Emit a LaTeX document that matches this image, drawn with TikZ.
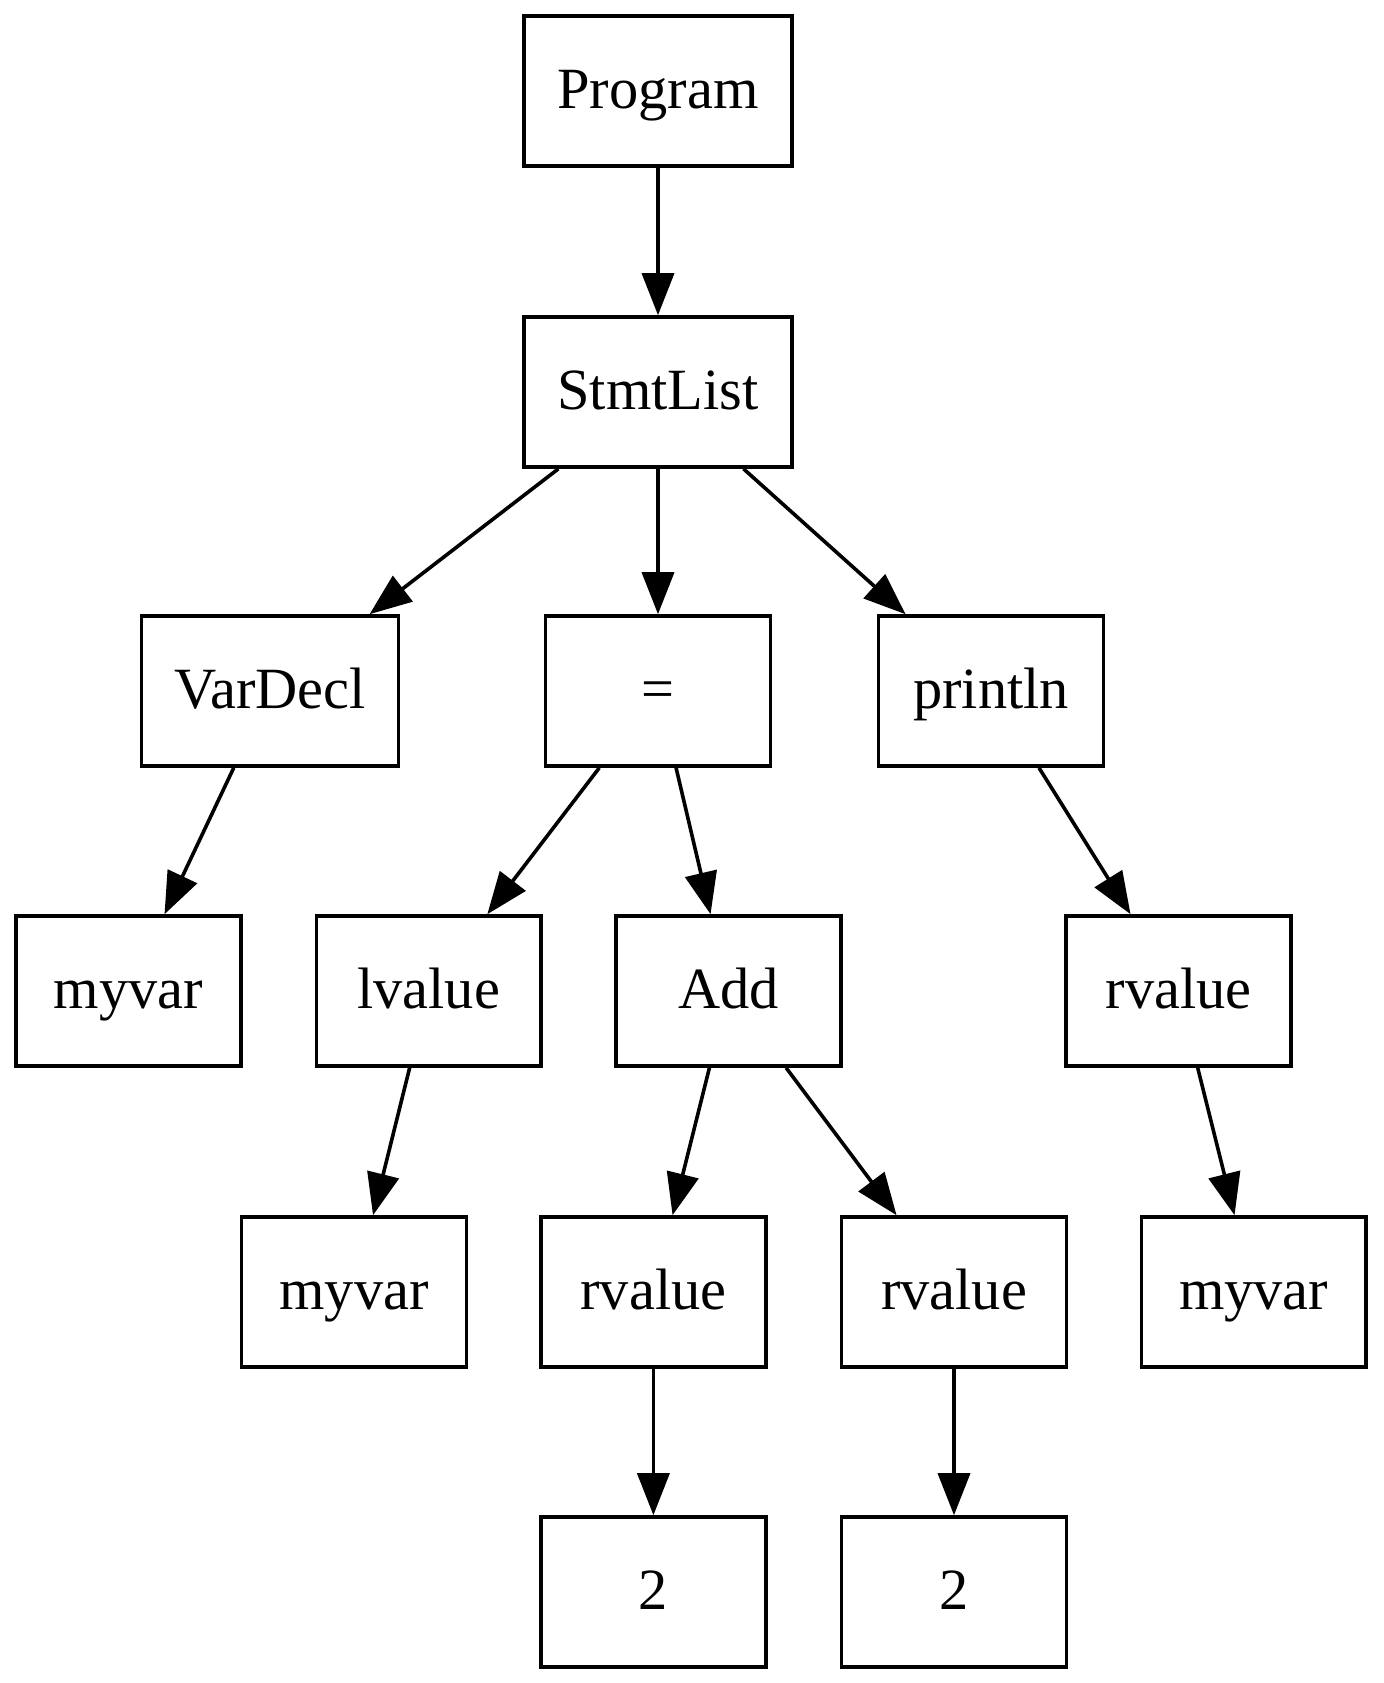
\documentclass[tikz,border=0pt]{standalone}
\usepackage{fontspec}
\setmainfont{Liberation Serif}
\usetikzlibrary{arrows.meta}
\begin{document}
\begin{tikzpicture}[x=0.25pt,y=-0.25pt,
  box/.style={draw, line width=0.9pt, inner sep=0pt, minimum width=56.2pt, minimum height=37.5pt,
    font=\fontsize{14.6pt}{17pt}\selectfont, text height=10.2pt, text depth=1.5pt},
  wide/.style={minimum width=67.1pt},
  vwide/.style={minimum width=64.3pt},
  edge/.style={line width=0.9pt, -{Triangle[length=10.5pt,width=8pt]}}]
\useasboundingbox (0,0) rectangle (1383,1683);
\node[box,wide] (prog) at (658,91) {Program};
\node[box,wide] (stmt) at (658,392) {StmtList};
\node[box,vwide] (vdecl) at (270,691) {VarDecl};
\node[box] (assign) at (658,691) {=};
\node[box] (println) at (991,691) {println};
\node[box] (myvarA) at (128.3,991) {myvar};
\node[box] (lvalue) at (428.7,991) {lvalue};
\node[box] (add) at (728.6,991) {Add};
\node[box] (rvalueP) at (1178.5,991) {rvalue};
\node[box] (myvarB) at (354,1292) {myvar};
\node[box] (rvalueL) at (653.4,1292) {rvalue};
\node[box] (rvalueR) at (954,1292) {rvalue};
\node[box] (myvarC) at (1253.7,1292) {myvar};
\node[box] (twoL) at (653.4,1592) {2};
\node[box] (twoR) at (954,1592) {2};
\draw[edge] (prog) -- (stmt);
\draw[edge] (stmt) -- (vdecl);
\draw[edge] (stmt) -- (assign);
\draw[edge] (stmt) -- (println);
\draw[edge] (vdecl) -- (myvarA);
\draw[edge] (assign) -- (lvalue);
\draw[edge] (assign) -- (add);
\draw[edge] (println) -- (rvalueP);
\draw[edge] (lvalue) -- (myvarB);
\draw[edge] (add) -- (rvalueL);
\draw[edge] (add) -- (rvalueR);
\draw[edge] (rvalueP) -- (myvarC);
\draw[edge] (rvalueL) -- (twoL);
\draw[edge] (rvalueR) -- (twoR);
\end{tikzpicture}
\end{document}
